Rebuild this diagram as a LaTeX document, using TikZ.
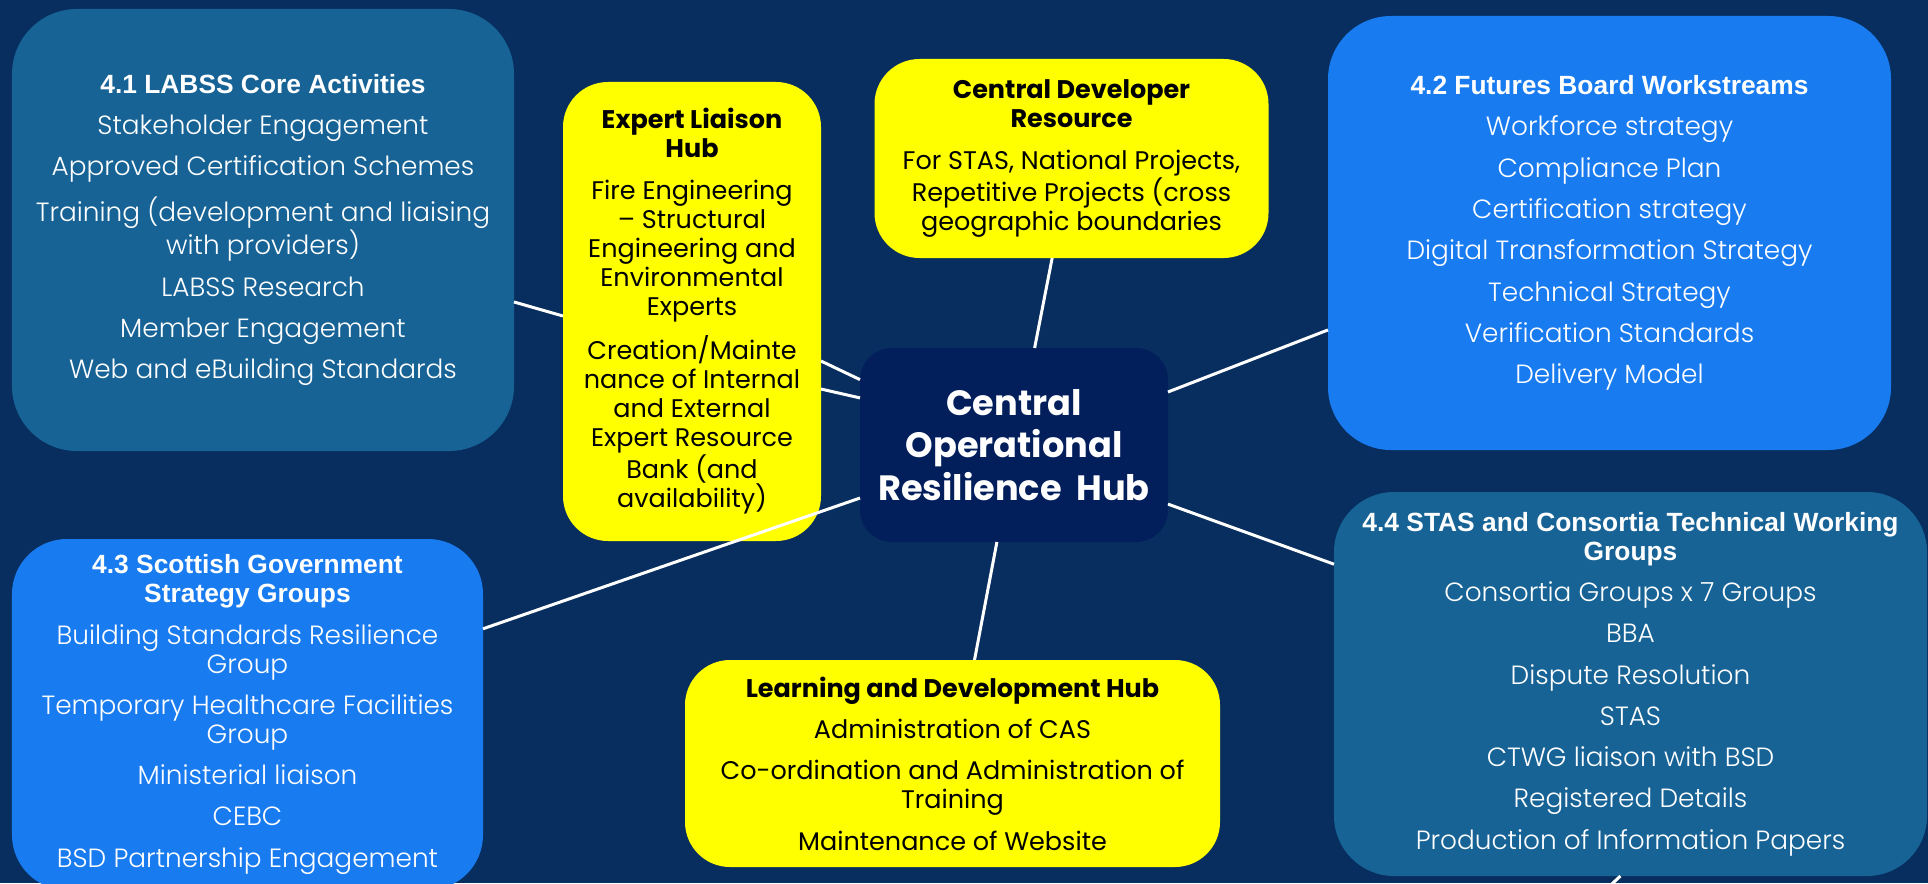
\documentclass[tikz,border=0pt]{standalone}
\usepackage{fontspec}
\setmainfont{Poppins}
\newfontfamily\headfont{Liberation Sans}
\newfontfamily\lightfont{Poppins Light}
\usetikzlibrary{positioning}

\definecolor{navybg}{RGB}{7,46,94}
\definecolor{hubnavy}{RGB}{2,31,92}
\definecolor{steelblue}{RGB}{23,99,150}
\definecolor{brightblue}{RGB}{25,123,240}
\definecolor{hubyellow}{RGB}{255,255,0}

\newcommand{\boxhead}[1]{{\headfont\bfseries #1}}
\newcommand{\slimhead}[1]{{\bfseries #1}}

\begin{document}
\begin{tikzpicture}[
        x=0.2mm, y=-0.2mm,
        panel/.style={rounded corners=12mm, inner sep=0pt, outer sep=0pt, align=center,
          text=white, font=\lightfont\fontsize{15}{16.5}\selectfont},
        steelpanel/.style={panel, fill=steelblue},
        brightpanel/.style={panel, fill=brightblue},
        yellowpanel/.style={panel, rounded corners=9mm, fill=hubyellow, text=black,
          font=\fontsize{14.5}{16.5}\selectfont},
        hubpanel/.style={panel, rounded corners=6.4mm, fill=hubnavy,
          font=\bfseries\fontsize{20}{24}\selectfont},
        link/.style={draw=white, line width=0.6mm}
      ]

        \fill[navybg] (0,0) rectangle (1928,883);
        \useasboundingbox (0,0) rectangle (1928,883);

        \node (hub) [hubpanel, minimum width=61.6mm, minimum height=38.8mm] at (1014,445)
          {Central\\Operational\\Resilience\ \ Hub};

        \node (expert) [yellowpanel, minimum width=51.6mm, minimum height=91.8mm,
          left=7.8mm of hub, yshift=26.7mm]
          {\slimhead{Expert Liaison}\\\slimhead{Hub}\\[7pt]
           Fire Engineering\\– Structural\\Engineering and\\Environmental\\Experts\\[7pt]
           Creation/Mainte\\nance of Internal\\and External\\Expert Resource\\Bank (and\\availability)};

        \node (devres) [yellowpanel, minimum width=78.8mm, minimum height=39.8mm,
          above=18mm of hub, xshift=11.5mm]
          {\slimhead{Central Developer}\\\slimhead{Resource}\\[7pt]
           For STAS, National Projects,\\Repetitive Projects (cross\\geographic boundaries};

        \node (learning) [yellowpanel, minimum width=107mm, minimum height=41.4mm,
          below=23.6mm of hub, xshift=-12.3mm]
          {\slimhead{Learning and Development Hub}\\[7pt]
           Administration of CAS\\[7pt]
           Co-ordination and Administration of\\Training\\[7pt]
           Maintenance of Website};

        \node (labss) [steelpanel, rounded corners=13mm, minimum width=100.4mm, minimum height=88.4mm] at (263,230)
          {\boxhead{4.1 LABSS Core Activities}\\[7pt]
           Stakeholder Engagement\\[7pt]
           Approved Certification Schemes\\[7pt]
           Training (development and liaising\\with providers)\\[7pt]
           LABSS Research\\[7pt]
           Member Engagement\\[7pt]
           Web and eBuilding Standards};

        \node (futures) [brightpanel, rounded corners=12.6mm, minimum width=112.6mm, minimum height=86.8mm] at (1609.5,233)
          {\boxhead{4.2 Futures Board Workstreams}\\[7pt]
           Workforce strategy\\[7pt]
           Compliance Plan\\[7pt]
           Certification strategy\\[7pt]
           Digital Transformation Strategy\\[7pt]
           Technical Strategy\\[7pt]
           Verification Standards\\[7pt]
           Delivery Model};

        \node (scottish) [brightpanel, rounded corners=11mm, minimum width=94.2mm, minimum height=70.2mm] at (247.5,714.5)
          {\boxhead{4.3 Scottish Government}\\\boxhead{Strategy Groups}\\[7pt]
           Building Standards Resilience\\Group\\[7pt]
           Temporary Healthcare Facilities\\Group\\[7pt]
           Ministerial liaison\\[7pt]
           CEBC\\[7pt]
           BSD Partnership Engagement};

        \node (stas) [steelpanel, minimum width=118.6mm, minimum height=76.8mm] at (1630.5,684)
          {\boxhead{4.4 STAS and Consortia Technical Working}\\\boxhead{Groups}\\[7pt]
           Consortia Groups x 7 Groups\\[7pt]
           BBA\\[7pt]
           Dispute Resolution\\[7pt]
           STAS\\[7pt]
           CTWG liaison with BSD\\[7pt]
           Registered Details\\[7pt]
           Production of Information Papers};

        \coordinate (offpage) at (1600,895);

        \draw[link] (labss.-16) -- (expert.182);
        \draw[link] (hub.157.9) -- (expert.-21.8);
        \draw[link] (hub.163.8) -- (expert.-31);
        \draw[link] (hub.78.3) -- (devres.-101.9);
        \draw[link] (hub.19.5) -- (futures.199.5);
        \draw[link] (hub.-21.2) -- (stas.158.8);
        \draw[link] (hub.-100.5) -- (learning.78.8);
        \draw[link] (hub.199.2) -- (scottish.20.1);
        \draw[link] (stas.-93.9) -- (offpage);
      \end{tikzpicture}
\end{document}
